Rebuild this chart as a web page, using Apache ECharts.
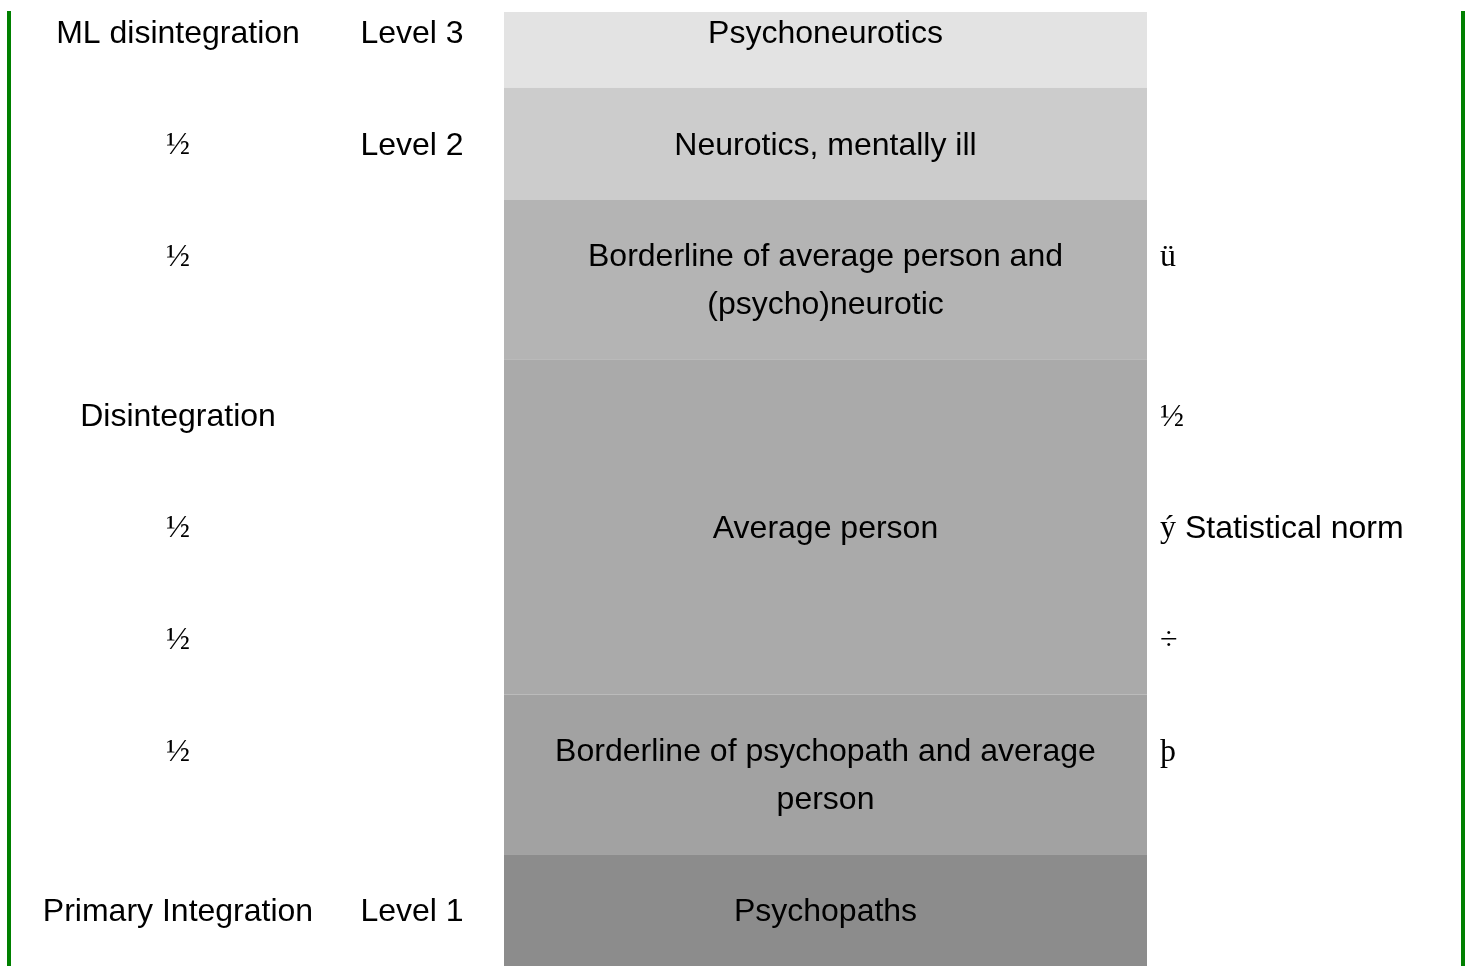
<!DOCTYPE html>
<html>
<head>
<meta charset="utf-8">
<script src="https://cdn.jsdelivr.net/npm/echarts@6/dist/echarts.min.js"></script>
<style>
  html, body { margin: 0; padding: 0; background: #ffffff; }
  #chart { width: 1468px; height: 966px; }
</style>
</head>
<body>
<div id="chart"></div>
<script>
// ---- data ----
const rowLines = [1, 1, 2, 1, 1, 1, 2, 1];
const leftLabels = ['ML disintegration', '½', '½', 'Disintegration', '½', '½', '½', 'Primary Integration'];
const levelLabels = ['Level 3', 'Level 2', '', '', '', '', '', 'Level 1'];
const middleLabels = [
  'Psychoneurotics',
  'Neurotics, mentally ill',
  'Borderline of average person and\n(psycho)neurotic',
  'Average person',
  'Borderline of psychopath and average\nperson',
  'Psychopaths'
];
const middleRowSpans = [1, 1, 1, 3, 1, 1];
const rightSymbols = ['', '', 'ü', '½', 'ý', '÷', 'þ', ''];
const rightNotes = ['', '', '', '', 'Statistical norm', '', '', ''];

// ---- styles / layout ----
const shades = ['#e3e3e3', '#cccccc', '#b4b4b4', '#aaaaaa', '#a2a2a2', '#8c8c8c'];
const SANS = '"Liberation Sans", Arial, sans-serif';
const SERIF = '"Liberation Serif", "Times New Roman", serif';
const FS = 32;
const LH = 48;
const TEXT_DY = 2;
const COL_LEFT = 178, COL_LEVEL = 412, MID_X0 = 504, MID_X1 = 1147, COL_RIGHT = 1160;

// row geometry in units (16px): 4 + 3 * lines
const rowStart = [];
let acc = 0;
rowLines.forEach(function (l) { rowStart.push(acc); acc += 4 + 3 * l; });
const totalUnits = acc;

// middle blocks
const midBlocks = [];
let r = 0;
middleLabels.forEach(function (lab, i) {
  const s = rowStart[r];
  const eRow = r + middleRowSpans[i];
  const e = eRow < rowStart.length ? rowStart[eRow] : totalUnits;
  midBlocks.push([s, e, i]);
  r = eRow;
});

const sideItems = rowLines.map(function (l, i) { return [rowStart[i] + 3.5, i]; });

function isSym(t) { return t.length === 1; }

const chart = echarts.init(document.getElementById('chart'), null, { renderer: 'canvas' });
chart.setOption({
  animation: false,
  backgroundColor: '#ffffff',
  grid: { left: 0, right: 0, top: 12, bottom: -2 },
  xAxis: { type: 'value', min: 0, max: 1468, show: false },
  yAxis: { type: 'value', min: 2.25, max: totalUnits, inverse: true, show: false },
  graphic: [
    { type: 'rect', shape: { x: 7, y: 11, width: 4, height: 960 }, style: { fill: '#008000' } },
    { type: 'rect', shape: { x: 1461, y: 11, width: 4, height: 960 }, style: { fill: '#008000' } }
  ],
  series: [
    {
      type: 'custom',
      clip: true,
      data: midBlocks,
      renderItem: function (params, api) {
        const s = api.value(0), e = api.value(1), idx = api.value(2);
        const p0 = api.coord([MID_X0, s]);
        const p1 = api.coord([MID_X1, e]);
        const pc = api.coord([(MID_X0 + MID_X1) / 2, (s + e) / 2]);
        return {
          type: 'group',
          children: [
            { type: 'rect', shape: { x: p0[0], y: p0[1], width: p1[0] - p0[0], height: p1[1] - p0[1] },
              style: { fill: shades[idx] } },
            { type: 'text', x: pc[0], y: pc[1] + TEXT_DY,
              style: { text: middleLabels[idx], fill: '#000', font: FS + 'px ' + SANS,
                       align: 'center', verticalAlign: 'middle', lineHeight: LH } }
          ]
        };
      }
    },
    {
      type: 'custom',
      clip: false,
      data: sideItems,
      renderItem: function (params, api) {
        const y = api.value(0), i = api.value(1);
        const children = [];
        const pl = api.coord([COL_LEFT, y]);
        const lt = leftLabels[i];
        if (lt) children.push({ type: 'text', x: pl[0], y: pl[1] + TEXT_DY,
          style: { text: lt, fill: '#000', font: FS + 'px ' + (isSym(lt) ? SERIF : SANS),
                   align: 'center', verticalAlign: 'middle' } });
        const pv = api.coord([COL_LEVEL, y]);
        if (levelLabels[i]) children.push({ type: 'text', x: pv[0], y: pv[1] + TEXT_DY,
          style: { text: levelLabels[i], fill: '#000', font: FS + 'px ' + SANS,
                   align: 'center', verticalAlign: 'middle' } });
        const pr = api.coord([COL_RIGHT, y]);
        if (rightSymbols[i]) {
          children.push({ type: 'text', x: pr[0], y: pr[1] + TEXT_DY,
            style: {
              text: '{s|' + rightSymbols[i] + '}' + (rightNotes[i] ? '{t| ' + rightNotes[i] + '}' : ''),
              rich: {
                s: { font: FS + 'px ' + SERIF, fill: '#000' },
                t: { font: FS + 'px ' + SANS, fill: '#000' }
              },
              align: 'left', verticalAlign: 'middle' } });
        }
        return { type: 'group', children: children };
      }
    }
  ]
});
</script>
</body>
</html>
